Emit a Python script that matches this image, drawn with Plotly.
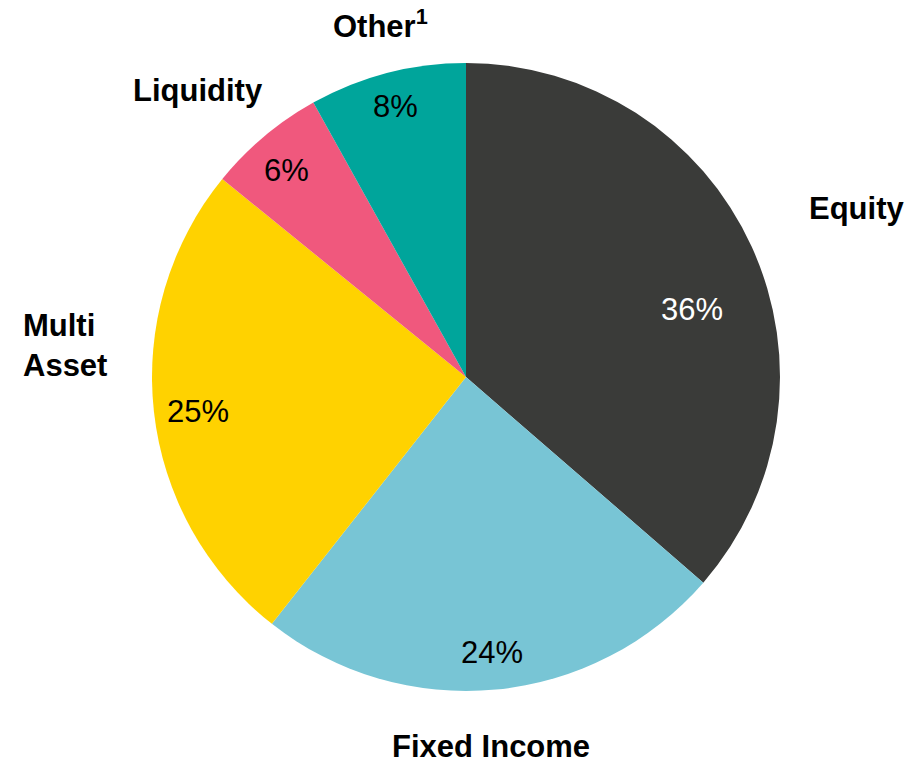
import math
import plotly.graph_objects as go

# Asset class mix (percent of total)
categories = ["Equity", "Fixed Income", "Multi Asset", "Liquidity", "Other<sup>1</sup>"]
values = [36, 24, 25, 6, 8]
pct_labels = ["36%", "24%", "25%", "6%", "8%"]

colors = ["#3a3b39", "#78c5d5", "#ffd200", "#f0587d", "#00a59b"]
pct_font_colors = ["#ffffff", "#000000", "#000000", "#000000", "#000000"]

W, H = 920, 766
CX, CY, R = 466, 377, 314  # pie centre and radius in pixels

# radial position of each percentage label (fraction of radius) and angular nudge (deg)
pct_radius = [0.75, 0.88, 0.86, 0.87, 0.89]
pct_shift = [8, 0, -1, -1, 0]

# category label placement (pixels) and alignment
cat_pos = [(856, 209, "center"), (491, 746, "center"), (22, 346, "left"),
           (198, 90, "center"), (380, 24, "center")]
cat_text = ["Equity", "Fixed Income", "Multi<br>Asset", "Liquidity", "Other<sup>1</sup>"]

FONT = "Liberation Sans, Arial, sans-serif"

fig = go.Figure(go.Pie(
    labels=categories,
    values=values,
    sort=False,
    direction="clockwise",
    rotation=0,
    marker=dict(colors=colors, line=dict(width=0)),
    textinfo="none",
    hoverinfo="label+percent",
    showlegend=False,
    domain=dict(x=[(CX - R) / W, (CX + R) / W], y=[1 - (CY + R) / H, 1 - (CY - R) / H]),
))

annotations = []
total = sum(values)
cum = 0
for i, v in enumerate(values):
    mid = (cum + v / 2) / total * 360 + pct_shift[i]
    cum += v
    t = math.radians(mid)
    px = CX + pct_radius[i] * R * math.sin(t)
    py = CY - pct_radius[i] * R * math.cos(t)
    annotations.append(dict(
        x=px / W, y=1 - py / H, xref="paper", yref="paper",
        text=pct_labels[i], showarrow=False,
        font=dict(family=FONT, size=31, color=pct_font_colors[i]),
        xanchor="center", yanchor="middle",
    ))

for (px, py, align), txt in zip(cat_pos, cat_text):
    annotations.append(dict(
        x=px / W, y=1 - py / H, xref="paper", yref="paper",
        text="<b>" + txt + "</b>", showarrow=False, align=align,
        font=dict(family=FONT, size=31, color="#000000"),
        xanchor="center" if align == "center" else "left", yanchor="middle",
        borderpad=0,
    ))

fig.update_layout(
    width=W, height=H,
    margin=dict(l=0, r=0, t=0, b=0),
    paper_bgcolor="#ffffff",
    plot_bgcolor="#ffffff",
    annotations=annotations,
)

fig.write_html("out.html")
